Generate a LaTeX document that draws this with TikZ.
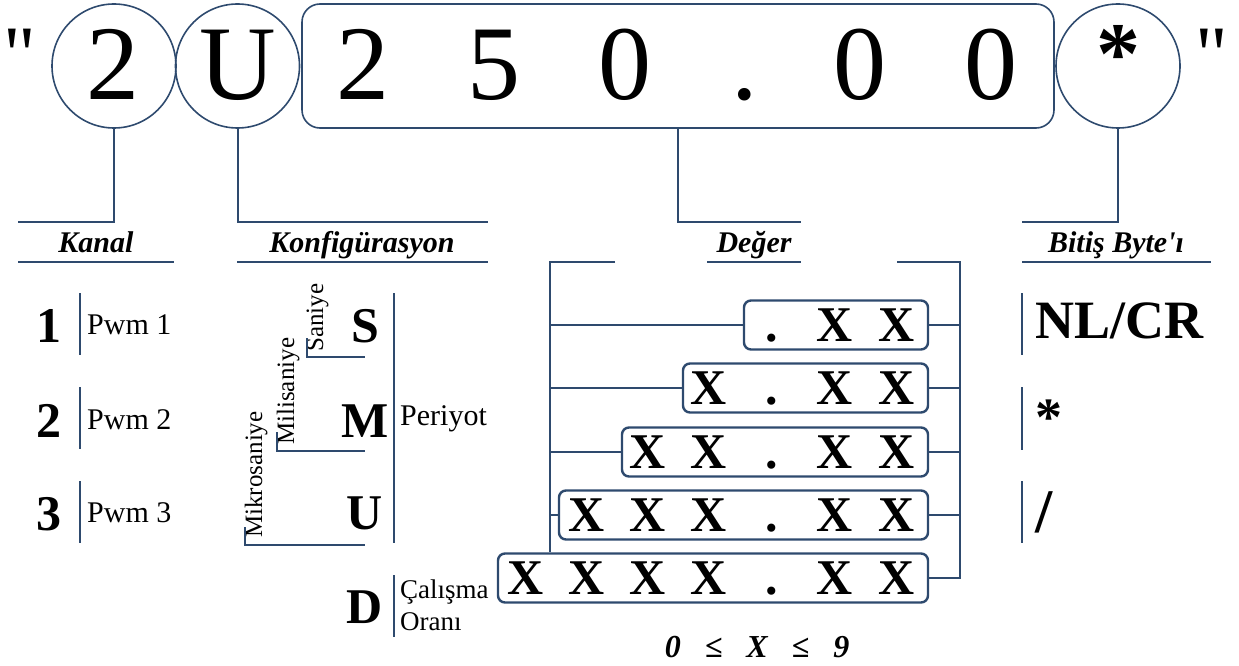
\documentclass[tikz,border=0pt]{standalone}
\usepackage{fontspec}
\setmainfont{Liberation Serif}[Ligatures=TeXOff]
\definecolor{ink}{RGB}{46,74,110}
\newcommand\fsz[1]{\fontsize{#1}{#1}\selectfont}
\begin{document}
\begin{tikzpicture}[x=1pt,y=-1pt,
  line/.style={draw=ink, line width=2pt},
  ring/.style={circle, draw=ink, line width=1.6pt, minimum size=124pt, inner sep=0pt},
  topch/.style={font=\fsz{106}, inner sep=0pt, anchor=base},
  quot/.style={font=\fsz{80}, inner sep=0pt, anchor=base},
  head/.style={font=\fsz{30}\bfseries\itshape, inner sep=0pt, anchor=base},
  big/.style={font=\fsz{50}\bfseries, inner sep=0pt, anchor=base},
  lbl/.style={font=\fsz{30}, inner sep=0pt, anchor=base west},
  lbls/.style={font=\fsz{27}, inner sep=0pt, anchor=base west},
  vert/.style={font=\fsz{25}, inner sep=0pt, anchor=base west, rotate=90},
  vbox/.style={draw=ink, line width=2.4pt, rounded corners=7pt, minimum height=49pt, inner sep=0pt},
  xch/.style={font=\fsz{50}\bfseries, inner sep=0pt, anchor=base},
  endch/.style={font=\fsz{54}\bfseries, inner sep=0pt, anchor=base west}]
\useasboundingbox (0,0) rectangle (1239,666);

% ---- command string ----
\node[quot] (qL) at (19.5,82) {"};
\node[quot] (qR) at (1211.5,82) {"};
\node[ring] (ch) at (114,66) {};
\node[topch] (chT) at (113,100) {2};
\node[ring] (cU) at (237.5,66) {};
\node[topch] (cUT) at (238,100) {U};
\node[draw=ink, line width=1.6pt, rounded corners=18pt, minimum width=752pt,
      minimum height=124pt, inner sep=0pt] (val) at (678,66) {};
\node[topch] (v1) at (363,100) {2};
\node[topch] (v2) at (494,100) {5};
\node[topch] (v3) at (625,100) {0};
\node[topch] (v4) at (745,100) {.};
\node[topch] (v5) at (860,100) {0};
\node[topch] (v6) at (991,100) {0};
\node[ring] (cs) at (1118,66) {};
\node[topch, font=\fsz{88}\bfseries] (csT) at (1118,84) {*};

% ---- leaders to the headings ----
\coordinate (kanalL) at (18,222);
\coordinate (konfR) at (488,222);
\coordinate (degR) at (801,222);
\coordinate (bitL) at (1022,222);
\draw[line] (ch.south) |- (kanalL);
\draw[line] (cU.south) |- (konfR);
\draw[line] (val.south) |- (degR);
\draw[line] (cs.south) |- (bitL);

% ---- headings ----
\node[head] (hK) at (96,252) {Kanal};
\node[head] (hC) at (362,252) {Konfigürasyon};
\node[head] (hD) at (754,252) {Değer};
\node[head] (hB) at (1116,252) {Bitiş Byte'ı};
\draw[line] (18,262) -- (174,262);
\draw[line] (237,262) -- (488,262);
\draw[line] (707,262) -- (801,262);
\draw[line] (1022,262) -- (1211,262);

% ---- channels ----
\foreach \n/\b/\t in {1/342/293, 2/437/387, 3/530/481}{
  \node[big] (k\n) at (49,\b) {\n};
  \draw[line] (80,\t) -- (80,\t+62);
  \node[lbl] (p\n) at (87,\b-8) {Pwm \n};
}

% ---- configuration ----
\node[big] (cfS) at (365,342) {S};
\node[big] (cfM) at (365,437) {M};
\node[big] (cfU) at (365,529) {U};
\node[big] (cfD) at (365,623) {D};
\node[vert] (tS) at (323,352) {Saniye};
\node[vert] (tM) at (294,445) {Milisaniye};
\node[vert] (tU) at (262,538) {Mikrosaniye};
\draw[line] (307,338) -- (307,357) -- (365,357);
\draw[line] (277,432) -- (277,451) -- (365,451);
\draw[line] (245,527) -- (245,545) -- (365,545);
\draw[line] (394,293) -- (394,543);
\node[lbl] (per) at (400,425) {Periyot};
\draw[line] (394,575) -- (394,637);
\node[lbls] (dc1) at (400,598) {Çalışma};
\node[lbls] (dc2) at (400,630) {Oranı};

% ---- value formats ----
\node[vbox, minimum width=184pt] (r1) at (836,325) {};
\node[vbox, minimum width=245pt] (r2) at (805.5,388) {};
\node[vbox, minimum width=306pt] (r3) at (775,452) {};
\node[vbox, minimum width=369pt] (r4) at (743.5,515) {};
\node[vbox, minimum width=430pt] (r5) at (713,578) {};
\foreach \r/\b/\first in {1/341/5, 2/404/4, 3/468/3, 4/531/2, 5/594/1}{
  \foreach \i/\x/\c in {1/526/X, 2/587/X, 3/648/X, 4/709/X, 5/772/., 6/835/X, 7/897/X}{
    \ifnum\i<\first\relax\else
      \node[xch] (x\r\i) at (\x,\b) {\c};
    \fi
  }
}
\coordinate (lb) at (550,262);
\coordinate (rb) at (960,262);
\draw[line] (615,262) -- (lb) -- (lb |- r5.north);
\draw[line] (897,262) -- (rb) |- (r5.east);
\foreach \r in {1,2,3,4}{
  \draw[line] (lb |- r\r.west) -- (r\r.west);
  \draw[line] (r\r.east) -- (rb |- r\r.east);
}
\node[font=\fsz{32}\bfseries\itshape, inner sep=0pt, anchor=base] (rng) at (757,657)
  {0\hspace{24pt}≤\hspace{24pt}X\hspace{24pt}≤\hspace{24pt}9};

% ---- end bytes ----
\draw[line] (1022,293) -- (1022,355);
\draw[line] (1022,387) -- (1022,450);
\draw[line] (1022,481) -- (1022,543);
\node[endch] (e1) at (1035,338) {NL/CR};
\node[endch] (e2) at (1035,435) {*};
\node[endch, font=\fsz{62}\bfseries] (e3) at (1035,532) {/};
\end{tikzpicture}
\end{document}
